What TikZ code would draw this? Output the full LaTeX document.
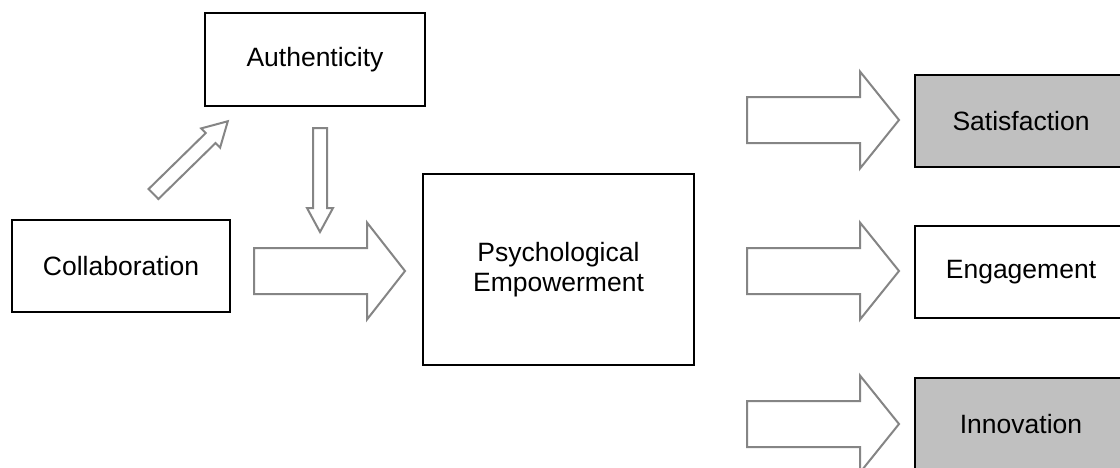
\documentclass[tikz,border=0pt]{standalone}
\usepackage{fontspec}
\setmainfont{Liberation Sans}
\definecolor{arrowgray}{HTML}{858585}
\definecolor{boxgray}{HTML}{C0C0C0}
\tikzset{
  box/.style={draw=black, line width=2.2pt, inner sep=0pt, align=center,
    font=\fontsize{26.5pt}{30pt}\selectfont, text=black},
  blockarrow/.style={draw=arrowgray, line width=2pt, line join=miter, fill=white},
}
% \blockarr{name}{tail x}{tail y}{angle}{length}{shaft half width}{head half width}{head length}
\newcommand{\blockarr}[8]{%
  \begin{scope}[shift={(#2,#3)}, rotate=#4]
    \coordinate (#1-tail) at (0,0);
    \coordinate (#1-tip) at (#5,0);
    \draw[blockarrow] (0,#6) -- ({#5-#8},#6) -- ({#5-#8},#7) -- (#1-tip)
      -- ({#5-#8},-#7) -- ({#5-#8},-#6) -- (0,-#6) -- cycle;
  \end{scope}}
\begin{document}
\begin{tikzpicture}[x=1pt, y=-1pt]
\path[use as bounding box, clip] (0,0) rectangle (1120,467);
\fill[white] (0,0) rectangle (1120,467);

% boxes
\node[box, minimum width=220pt, minimum height=93pt] (auth) at (315,59.5) {Authenticity};
\node[box, minimum width=218pt, minimum height=92pt] (coll) at (121,266) {Collaboration};
\node[box, minimum width=271pt, minimum height=191pt] (pe) at (558.5,269.5) {Psychological\\Empowerment};
\node[box, fill=boxgray, minimum width=212pt, minimum height=92pt] (sat) at (1021,121) {Satisfaction};
\node[box, minimum width=212pt, minimum height=92pt] (eng) at (1021,272) {Engagement};
\node[box, fill=boxgray, minimum width=212pt, minimum height=92pt] (inn) at (1021,424) {Innovation};

% block arrows
\blockarr{a1}{153.5}{194}{44.4}{104}{7}{13.5}{24}
\blockarr{a2}{320}{128}{-90}{104}{7}{13}{24}
\blockarr{a3}{254}{271}{0}{151}{23}{48.5}{38}
\blockarr{a4}{747}{120}{0}{152}{23}{48.5}{39}
\blockarr{a5}{747}{271}{0}{152}{23}{48.5}{39}
\blockarr{a6}{747}{424}{0}{152}{23}{48.5}{39}
\end{tikzpicture}
\end{document}
